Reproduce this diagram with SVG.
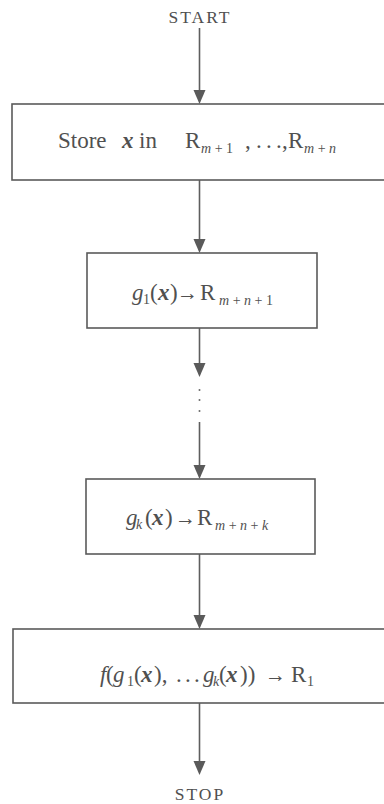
<svg xmlns="http://www.w3.org/2000/svg" width="384" height="804" viewBox="0 0 384 804">
<style>
  .box { fill: #ffffff; stroke: #5a5a5a; stroke-width: 1.6; }
  .conn { stroke: #5e5e5e; stroke-width: 1.6; fill: none; }
  .t { font-family: "Liberation Serif", "DejaVu Serif", "Times New Roman", serif; fill: #505050; font-size: 23px; }
  .term { font-size: 17.5px; letter-spacing: 2px; }
  .sub { font-size: 14px; font-style: italic; }
  .num { font-size: 14px; font-style: normal; }
  .bx { font-style: italic; font-weight: bold; }
  .it { font-style: italic; }
  .ar { font-size: 21px; }
  .dot { fill: #6a6a6a; }
  .head { fill: #5a5a5a; }
</style>
<rect width="384" height="804" fill="#ffffff"/>

<g id="connectors">
  <path class="conn" d="M199.5,28 V91"/>
  <path class="head" d="M193.5,90 L205.5,90 L199.5,104 Z"/>
  <path class="conn" d="M199.5,180 V240"/>
  <path class="head" d="M193.5,239 L205.5,239 L199.5,253 Z"/>
  <path class="conn" d="M199.5,328 V364"/>
  <path class="head" d="M193.5,363 L205.5,363 L199.5,377 Z"/>
  <circle class="dot" cx="199.5" cy="390" r="1"/>
  <circle class="dot" cx="199.5" cy="400" r="1"/>
  <circle class="dot" cx="199.5" cy="411" r="1"/>
  <path class="conn" d="M199.5,422 V466"/>
  <path class="head" d="M193.5,465 L205.5,465 L199.5,479 Z"/>
  <path class="conn" d="M199.5,554 V616"/>
  <path class="head" d="M193.5,615 L205.5,615 L199.5,629 Z"/>
  <path class="conn" d="M199.5,703 V762"/>
  <path class="head" d="M193.5,761 L205.5,761 L199.5,775 Z"/>
</g>

<g id="start">
  <text class="t term" x="200" y="23" text-anchor="middle">START</text>
</g>

<g id="store">
  <rect class="box" x="12" y="104" width="380" height="76"/>
  <text class="t" y="148"><tspan x="58">Store</tspan><tspan x="122" class="bx">x</tspan><tspan x="139">in</tspan><tspan x="185">R</tspan><tspan x="201" y="153" class="sub">m <tspan class="num">+ 1</tspan></tspan><tspan x="245 249 256 260 266 270 276 279 282" y="148">, . . . ,</tspan><tspan x="288">R</tspan><tspan x="304" y="153" class="sub">m <tspan class="num">+</tspan> n</tspan></text>
</g>

<g id="g1">
  <rect class="box" x="87" y="253" width="230" height="75"/>
  <text class="t" y="300"><tspan x="132" class="it">g</tspan><tspan x="143" y="304" class="num">1</tspan><tspan x="150" y="300">(</tspan><tspan x="158" class="bx">x</tspan><tspan x="170">)</tspan><tspan x="177" class="ar">→</tspan><tspan x="200">R</tspan><tspan x="219" y="305" class="sub">m <tspan class="num">+</tspan> n <tspan class="num">+ 1</tspan></tspan></text>
</g>

<g id="gk">
  <rect class="box" x="86" y="479" width="229" height="75"/>
  <text class="t" y="525"><tspan x="126" class="it">g</tspan><tspan x="136" y="529" class="sub">k</tspan><tspan x="145" y="525">(</tspan><tspan x="152" class="bx">x</tspan><tspan x="165">)</tspan><tspan x="175" class="ar">→</tspan><tspan x="197">R</tspan><tspan x="215" y="530" class="sub">m <tspan class="num">+</tspan> n <tspan class="num">+</tspan> k</tspan></text>
</g>

<g id="f">
  <rect class="box" x="13" y="629" width="380" height="74"/>
  <text class="t" y="682"><tspan x="100" class="it">f</tspan><tspan x="106">(</tspan><tspan x="113" class="it">g</tspan><tspan x="127" y="686" class="num">1</tspan><tspan x="134" y="682">(</tspan><tspan x="141" class="bx">x</tspan><tspan x="154">),</tspan><tspan x="176 181 185 190 194">. . .</tspan><tspan x="203" class="it">g</tspan><tspan x="213" y="686" class="sub">k</tspan><tspan x="219" y="682">(</tspan><tspan x="226" class="bx">x</tspan><tspan x="240">))</tspan><tspan x="265" class="ar">→</tspan><tspan x="291">R</tspan><tspan x="307" y="686" class="num">1</tspan></text>
</g>

<g id="stop">
  <text class="t term" x="200" y="800" text-anchor="middle">STOP</text>
</g>
</svg>
